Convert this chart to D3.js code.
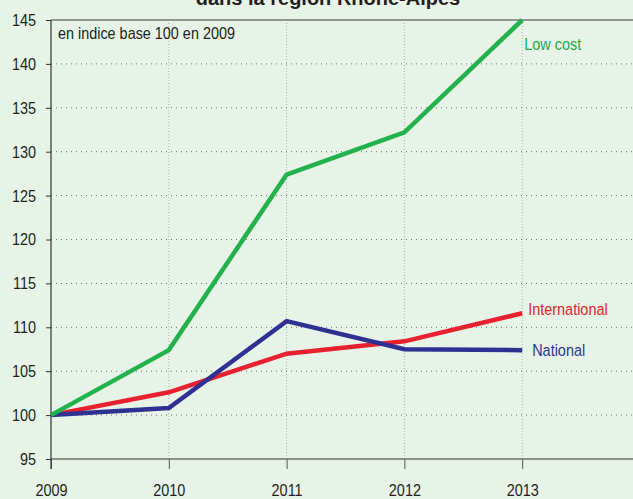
<!DOCTYPE html>
<html>
<head>
<meta charset="utf-8">
<script src="https://cdn.jsdelivr.net/npm/d3@7"></script>
<style>
body { margin: 0; background: #e7f3e7; }
svg { display: block; font-family: "Liberation Sans", Arial, sans-serif; }
</style>
</head>
<body>
<div class="graph"></div>
<script>
// Data
var years = [2009, 2010, 2011, 2012, 2013];
var lowCost = [100, 107.4, 127.4, 132.2, 145];
var international = [100, 102.6, 107, 108.4, 111.6];
var national = [100, 100.8, 110.7, 107.5, 107.4];
var yTicks = [95, 100, 105, 110, 115, 120, 125, 130, 135, 140, 145];

var series = [
	{name: "Low cost", values: lowCost, color: "#22b24c", labelColor: "#1fa84a", dx: 2, dy: 30},
	{name: "International", values: international, color: "#e8202f", labelColor: "#d9262f", dx: 6, dy: 2},
	{name: "National", values: national, color: "#2e3192", labelColor: "#2e3192", dx: 10, dy: 6}
];

var width = 633, height = 499;
var margin = {top: 20, left: 51, bottom: 40};
// the source uses a condensed face, squeeze Liberation Sans horizontally
var squeeze = 0.85;

var svg = d3.select(".graph")
	.append("svg")
	.attr("width", width)
	.attr("height", height);

svg.append("rect")
	.attr("width", width)
	.attr("height", height)
	.attr("fill", "#e7f3e7");

var xScale = d3.scaleLinear()
	.domain([2009, 2014])
	.range([margin.left, margin.left + 5 * 117.8]);

var yScale = d3.scaleLinear()
	.domain([95, 145])
	.range([459, margin.top]);

// title, cut at the top like the source
svg.append("text")
	.attr("x", 328)
	.attr("y", 5)
	.attr("text-anchor", "middle")
	.attr("font-size", 20)
	.attr("font-weight", "bold")
	.attr("fill", "#231f20")
	.text("dans la région Rhône-Alpes");

// vertical grid
svg.append("g")
	.selectAll("line")
	.data(years.slice(1))
	.enter()
	.append("line")
	.attr("x1", function(d){ return xScale(d); })
	.attr("x2", function(d){ return xScale(d); })
	.attr("y1", yScale(145))
	.attr("y2", yScale(95))
	.attr("stroke", "#a9b0a9")
	.attr("stroke-width", 1)
	.attr("stroke-dasharray", "1,2");

// horizontal grid
svg.append("g")
	.selectAll("line")
	.data(yTicks.filter(function(d){ return d > 95 && d < 145; }))
	.enter()
	.append("line")
	.attr("x1", margin.left)
	.attr("x2", width)
	.attr("y1", function(d){ return yScale(d); })
	.attr("y2", function(d){ return yScale(d); })
	.attr("stroke", "#6d6f6d")
	.attr("stroke-width", 1)
	.attr("stroke-dasharray", "1,4");

// top border
svg.append("line")
	.attr("x1", margin.left).attr("x2", width)
	.attr("y1", yScale(145)).attr("y2", yScale(145))
	.attr("stroke", "#777")
	.attr("stroke-width", 1.5);

// x axis
var xAxis = d3.axisBottom(xScale)
	.tickValues(years)
	.tickFormat(d3.format("d"))
	.tickSize(10)
	.tickSizeOuter(0);

var gx = svg.append("g")
	.attr("transform", "translate(0," + yScale(95) + ")")
	.call(xAxis);
gx.select(".domain").remove();
gx.append("line")
	.attr("x1", margin.left).attr("x2", width)
	.attr("stroke", "#6e6e6e").attr("stroke-width", 1.5);
gx.selectAll(".tick line").attr("stroke", "#555").attr("stroke-width", 1).attr("y1", 0);
gx.selectAll(".tick text")
	.attr("y", 37)
	.attr("dy", 0)
	.attr("font-size", 17)
	.attr("fill", "#231f20")
	.attr("font-family", null)
	.attr("transform", "scale(" + squeeze + ",1)");

// y axis
var yAxis = d3.axisLeft(yScale)
	.tickValues(yTicks)
	.tickSize(5)
	.tickSizeOuter(0);

var gy = svg.append("g")
	.attr("transform", "translate(" + margin.left + ",0)")
	.call(yAxis);
gy.select(".domain").attr("stroke", "#333").attr("stroke-width", 1.2)
	.attr("d", "M0," + yScale(145) + "V" + (yScale(95) + 10));
gy.selectAll(".tick line").attr("stroke", "#333");
gy.selectAll(".tick text")
	.attr("x", -15 / squeeze)
	.attr("font-size", 17)
	.attr("fill", "#231f20")
	.attr("font-family", null)
	.attr("transform", "scale(" + squeeze + ",1)");

// subtitle
svg.append("text")
	.attr("x", 58 / 0.9)
	.attr("y", 39)
	.attr("font-size", 16)
	.attr("fill", "#231f20")
	.attr("transform", "scale(0.9,1)")
	.text("en indice base 100 en 2009");

var line = d3.line()
	.x(function(d, i){ return xScale(years[i]); })
	.y(function(d){ return yScale(d); });

// draw International first so National sits over it like the original
var order = [series[1], series[2], series[0]];
svg.selectAll(".serie")
	.data(order)
	.enter()
	.append("path")
	.attr("class", "serie")
	.attr("d", function(d){ return line(d.values); })
	.attr("fill", "none")
	.attr("stroke", function(d){ return d.color; })
	.attr("stroke-width", 4.5)
	.attr("stroke-linejoin", "miter");

svg.selectAll(".label")
	.data(series)
	.enter()
	.append("text")
	.attr("class", "label")
	.attr("x", function(d){ return (xScale(2013) + d.dx) / squeeze; })
	.attr("y", function(d){ return yScale(d.values[4]) + d.dy; })
	.attr("font-size", 17)
	.attr("transform", "scale(" + squeeze + ",1)")
	.attr("fill", function(d){ return d.labelColor; })
	.text(function(d){ return d.name; });
</script>
</body>
</html>
